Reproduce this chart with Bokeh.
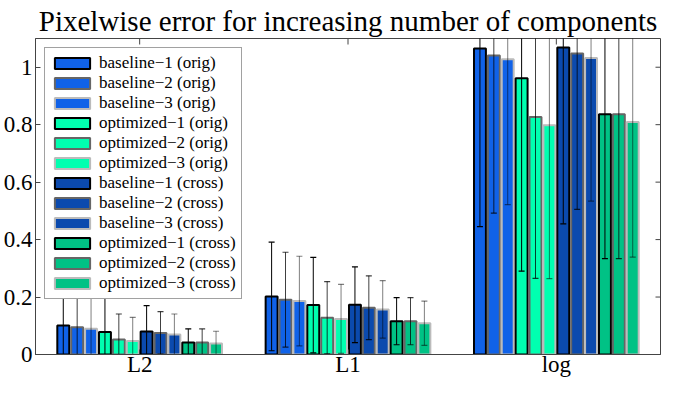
import math
from bokeh.plotting import figure
from bokeh.models import ColumnDataSource, FixedTicker, Range1d, Legend, LegendItem
from bokeh.embed import file_html
from bokeh.resources import INLINE

# ---- data ----
categories = ["L2", "L1", "log"]
series_names = [
    "baseline\u22121 (orig)", "baseline\u22122 (orig)", "baseline\u22123 (orig)",
    "optimized\u22121 (orig)", "optimized\u22122 (orig)", "optimized\u22123 (orig)",
    "baseline\u22121 (cross)", "baseline\u22122 (cross)", "baseline\u22123 (cross)",
    "optimized\u22121 (cross)", "optimized\u22122 (cross)", "optimized\u22123 (cross)",
]
# mean values per category, one list per series (L2, L1, log)
baseline1_orig = [0.101, 0.202, 1.065]
baseline2_orig = [0.095, 0.191, 1.041]
baseline3_orig = [0.090, 0.186, 1.028]
optimized1_orig = [0.078, 0.172, 0.962]
optimized2_orig = [0.052, 0.128, 0.827]
optimized3_orig = [0.047, 0.124, 0.798]
baseline1_cross = [0.080, 0.173, 1.069]
baseline2_cross = [0.075, 0.163, 1.048]
baseline3_cross = [0.070, 0.157, 1.032]
optimized1_cross = [0.042, 0.116, 0.836]
optimized2_cross = [0.042, 0.116, 0.836]
optimized3_cross = [0.038, 0.109, 0.809]
# standard deviations (error bar half-lengths)
baseline1_orig_err = [0.160, 0.189, 0.620]
baseline2_orig_err = [0.123, 0.165, 0.549]
baseline3_orig_err = [0.120, 0.156, 0.506]
optimized1_orig_err = [0.131, 0.166, 0.672]
optimized2_orig_err = [0.089, 0.126, 0.562]
optimized3_orig_err = [0.082, 0.120, 0.534]
baseline1_cross_err = [0.090, 0.132, 0.614]
baseline2_cross_err = [0.074, 0.111, 0.543]
baseline3_cross_err = [0.071, 0.100, 0.498]
optimized1_cross_err = [0.047, 0.082, 0.502]
optimized2_cross_err = [0.047, 0.082, 0.502]
optimized3_cross_err = [0.043, 0.077, 0.470]

means = [baseline1_orig, baseline2_orig, baseline3_orig,
         optimized1_orig, optimized2_orig, optimized3_orig,
         baseline1_cross, baseline2_cross, baseline3_cross,
         optimized1_cross, optimized2_cross, optimized3_cross]
errs = [baseline1_orig_err, baseline2_orig_err, baseline3_orig_err,
        optimized1_orig_err, optimized2_orig_err, optimized3_orig_err,
        baseline1_cross_err, baseline2_cross_err, baseline3_cross_err,
        optimized1_cross_err, optimized2_cross_err, optimized3_cross_err]

y_ticks = [0, 0.2, 0.4, 0.6, 0.8, 1.0]
y_tick_labels = ["0", "0.2", "0.4", "0.6", "0.8", "1"]
x_min, x_max = 0.5, 3.5
y_min, y_max = 0.0, 1.1

# ---- style ----
fill_colors = ["#1062E8"] * 3 + ["#00FFB0"] * 3 + ["#0B4AAE"] * 3 + ["#00C285"] * 3
edge_colors = ["#000000", "#666666", "#BBBBBB"] * 4
err_alpha = [1.0, 0.75, 0.5] * 4
FONT = "Liberation Serif"
AX = "#444444"

p = figure(width=661, height=379, output_backend="svg", toolbar_location=None,
           x_range=Range1d(x_min, x_max), y_range=Range1d(y_min, y_max),
           min_border_left=0, min_border_right=1, min_border_top=0, min_border_bottom=0)
p.grid.visible = False
p.outline_line_color = AX

p.title.text = "Pixelwise error for increasing number of components"
p.title.text_font = FONT
p.title.text_font_size = "29px"
p.title.text_font_style = "normal"
p.title.text_color = "black"
p.title.align = "center"
p.title.standoff = 4

group_width = 0.8
n = len(series_names)
pitch = group_width / n
bar_w = pitch * 0.86
cat_pos = [i + 1 for i in range(len(categories))]

items = []
for j in range(n):
    xs = [c + (j - (n - 1) / 2) * pitch for c in cat_pos]
    lo = [m - e for m, e in zip(means[j], errs[j])]
    hi = [m + e for m, e in zip(means[j], errs[j])]
    src = ColumnDataSource(dict(x=xs, top=means[j], lo=lo, hi=hi))
    r = p.vbar(x="x", top="top", bottom=0, width=bar_w, source=src,
               fill_color=fill_colors[j], line_color=edge_colors[j], line_width=2)
    items.append(LegendItem(label=series_names[j], renderers=[r]))
    p.segment(x0="x", y0="lo", x1="x", y1="hi", source=src,
              line_color="black", line_alpha=err_alpha[j], line_width=1)
    p.dash(x="x", y="hi", size=6, source=src, line_color="black", line_alpha=err_alpha[j], line_width=1.2)
    p.dash(x="x", y="lo", size=6, source=src, line_color="black", line_alpha=err_alpha[j], line_width=1.2)

# mirrored inward ticks on the right and top edges (half of each dash is clipped away)
p.dash(x=[x_max] * len(y_ticks), y=y_ticks, size=10, line_color=AX, line_width=1)
p.dash(x=cat_pos, y=[y_max] * len(cat_pos), size=12, angle=math.pi / 2, line_color=AX, line_width=1)

left_ax = p.left[0]
bottom_ax = p.below[0]
left_ax.ticker = FixedTicker(ticks=y_ticks)
left_ax.major_label_overrides = dict(zip(y_ticks, y_tick_labels))
bottom_ax.ticker = FixedTicker(ticks=cat_pos)
bottom_ax.major_label_overrides = dict(zip(cat_pos, categories))

for ax in [left_ax, bottom_ax]:
    ax.axis_line_color = AX
    ax.major_tick_line_color = AX
    ax.major_tick_in = 5
    ax.major_tick_out = 0
    ax.minor_tick_line_color = None
    ax.major_label_text_font = FONT
    ax.major_label_text_color = "black"
left_ax.major_label_text_font_size = "23px"
left_ax.major_label_standoff = 3
bottom_ax.major_label_text_font_size = "23px"
bottom_ax.major_label_standoff = -3

legend = Legend(items=items, location="top_left")
legend.margin = 9
legend.padding = 5
legend.spacing = 0
legend.glyph_width = 44
legend.glyph_height = 14
legend.label_height = 14
legend.label_standoff = 5
legend.label_text_font = FONT
legend.label_text_font_size = "17px"
legend.label_text_color = "black"
legend.border_line_color = AX
legend.border_line_width = 1
legend.background_fill_alpha = 1.0
p.add_layout(legend)

open("out.html", "w").write(file_html(p, INLINE))
